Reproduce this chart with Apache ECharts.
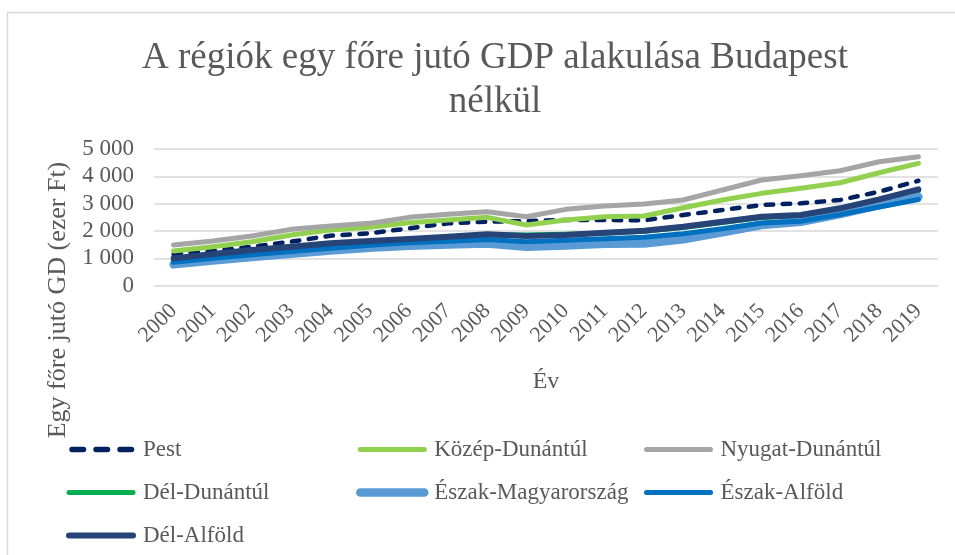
<!DOCTYPE html>
<html><head><meta charset="utf-8">
<script src="https://cdn.jsdelivr.net/npm/echarts@6/dist/echarts.min.js"></script>
<style>html,body{margin:0;padding:0;background:#fff}#c{width:955px;height:555px}</style>
</head><body><div id="c"></div>
<script>
const years = ['2000','2001','2002','2003','2004','2005','2006','2007','2008','2009','2010','2011','2012','2013','2014','2015','2016','2017','2018','2019'];
const pest = [1147,1269,1427,1610,1829,1915,2097,2280,2340,2366,2402,2402,2390,2585,2768,2951,3013,3133,3437,3839];
const kozepDunantul = [1269,1427,1610,1854,2036,2134,2304,2402,2500,2219,2402,2523,2548,2850,3133,3378,3561,3766,4132,4475];
const nyugatDunantul = [1488,1634,1817,2061,2183,2280,2500,2610,2706,2523,2793,2914,2987,3133,3500,3865,4022,4205,4534,4717];
const delDunantul = [980,1130,1270,1400,1520,1610,1690,1770,1860,1850,1880,1920,1990,2130,2310,2490,2560,2790,3110,3470];
const eszakMagyarorszag = [780,920,1050,1170,1290,1390,1460,1510,1540,1420,1470,1530,1545,1700,1950,2219,2340,2622,2951,3254];
const eszakAlfold = [860,1000,1130,1250,1370,1480,1570,1630,1690,1610,1660,1720,1770,1900,2080,2290,2360,2600,2880,3150];
const delAlfold = [1000,1159,1305,1427,1549,1634,1707,1792,1879,1817,1854,1938,2011,2157,2340,2523,2585,2830,3159,3525];
const yTicks = [0,1000,2000,3000,4000,5000];

const FONT = '"Liberation Serif", "Times New Roman", serif';
const TXT = '#595959';
function fmt(v){ return String(v).replace(/\B(?=(\d{3})+(?!\d))/g,' '); }

const seriesDefs = [
  {name:'Pest', data:pest, color:'#002060', width:4.5, type:[7.5,9.5]},
  {name:'Közép-Dunántúl', data:kozepDunantul, color:'#92d050', width:5},
  {name:'Nyugat-Dunántúl', data:nyugatDunantul, color:'#a5a5a5', width:5},
  {name:'Dél-Dunántúl', data:delDunantul, color:'#00b050', width:5},
  {name:'Észak-Magyarország', data:eszakMagyarorszag, color:'#5b9bd5', width:8.5},
  {name:'Észak-Alföld', data:eszakAlfold, color:'#0070c0', width:5},
  {name:'Dél-Alföld', data:delAlfold, color:'#264478', width:6}
];
const widthOf = {};
seriesDefs.forEach(function(s){ widthOf[s.name] = s; });
function legendItem(n){
  const s = widthOf[n];
  const ls = {color:s.color, width:s.name==='Pest'?5.5:s.width, cap:'round', type:s.name==='Pest'?[11.5,12.5]:'solid'};
  if (s.name==='Pest') ls.dashOffset = -3;
  return {name:n, lineStyle:ls, itemStyle:{color:'transparent', borderWidth:0, opacity:0}};
}

const legendBase = {
  orient:'vertical', itemWidth:64, itemHeight:14, itemGap:20, top:438, padding:0,
  itemStyle:{color:'transparent', borderWidth:0, opacity:0},
  textStyle:{fontFamily:FONT, fontSize:23, color:TXT, lineHeight:23, padding:[0,0,0,5]}
};

const chart = echarts.init(document.getElementById('c'), null, {renderer:'canvas'});
chart.setOption({
  animation:false,
  backgroundColor:'#fff',
  title:{
    text:'A régiók egy főre jutó GDP alakulása Budapest\nnélkül',
    left:490, top:31, textAlign:'center',
    textStyle:{fontFamily:FONT, fontSize:37, fontWeight:'normal', color:TXT, lineHeight:44}
  },
  graphic:[
    {type:'rect', left:5, top:10, shape:{width:1000, height:600}, style:{fill:'none', stroke:'#d9d9d9', lineWidth:1.5}, silent:true, z:-1},
    {type:'text', x:58, y:300, rotation:Math.PI/2, style:{text:'Egy főre jutó GD (ezer Ft)', fill:TXT, font:'26px '+FONT, align:'center', verticalAlign:'middle'}}
  ],
  legend:[
    Object.assign({}, legendBase, {left:66, data:['Pest','Dél-Dunántúl','Dél-Alföld'].map(legendItem)}),
    Object.assign({}, legendBase, {left:356, data:['Közép-Dunántúl','Észak-Magyarország'].map(legendItem)}),
    Object.assign({}, legendBase, {left:644, data:['Nyugat-Dunántúl','Észak-Alföld'].map(legendItem)})
  ],
  grid:{left:154, right:17, top:149, bottom:269.3, containLabel:false},
  xAxis:{
    type:'category', data:years, boundaryGap:true,
    name:'Év', nameLocation:'middle', nameGap:84,
    nameTextStyle:{fontFamily:FONT, fontSize:24, color:TXT},
    axisLine:{show:false}, axisTick:{show:false},
    axisLabel:{rotate:45, fontFamily:FONT, fontSize:22, color:TXT, margin:22, interval:0}
  },
  yAxis:{
    type:'value', min:0, max:5000, interval:1000,
    axisLine:{show:false}, axisTick:{show:false},
    splitLine:{lineStyle:{color:'#d9d9d9', width:1.5}},
    axisLabel:{fontFamily:FONT, fontSize:23, color:TXT, margin:20, formatter:function(v){return fmt(v);}}
  },
  series: seriesDefs.map(function(s){
    return {
      name:s.name, type:'line', data:s.data, symbol:'none', showSymbol:false,
      color:s.color,
      lineStyle:{color:s.color, width:s.width, type:s.type||'solid', cap:'round', join:'round'},
      itemStyle:{color:s.color}
    };
  })
});
</script>
</body></html>
